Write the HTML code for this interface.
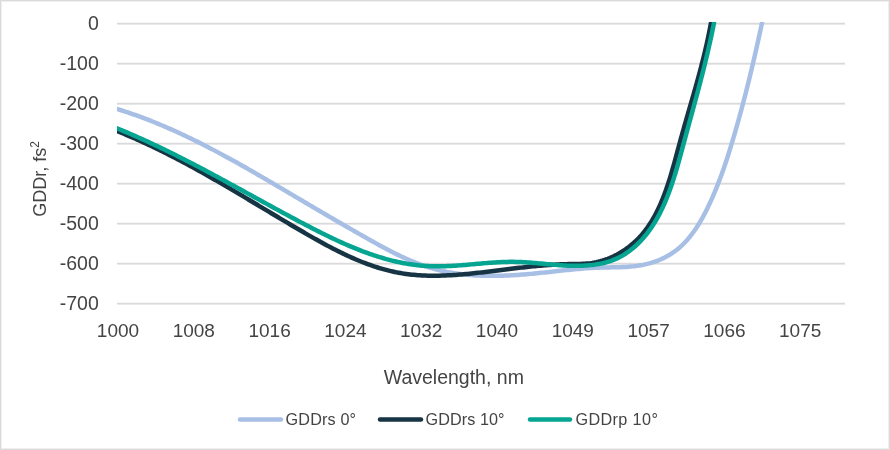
<!DOCTYPE html>
<html><head><meta charset="utf-8"><style>
html,body{margin:0;padding:0;background:#fff;}
svg{display:block;will-change:transform;}
text{font-family:"Liberation Sans", sans-serif;fill:#444444;}
</style></head><body>
<svg width="890" height="450" viewBox="0 0 890 450">
<rect x="0" y="0" width="890" height="450" fill="#fff"/>
<rect x="1.5" y="1.5" width="887" height="447" fill="none" stroke="#efefef" stroke-width="1"/>
<rect x="0.5" y="0.5" width="889" height="449" fill="none" stroke="#dadada" stroke-width="1"/>
<rect x="117" y="22" width="728" height="1" fill="#f6f6f6"/><rect x="117" y="23" width="728" height="1" fill="#dadada"/><rect x="117" y="24" width="728" height="1" fill="#e8e8e8"/><rect x="117" y="62" width="728" height="1" fill="#f6f6f6"/><rect x="117" y="63" width="728" height="1" fill="#dadada"/><rect x="117" y="64" width="728" height="1" fill="#e8e8e8"/><rect x="117" y="102" width="728" height="1" fill="#f6f6f6"/><rect x="117" y="103" width="728" height="1" fill="#dadada"/><rect x="117" y="104" width="728" height="1" fill="#e8e8e8"/><rect x="117" y="142" width="728" height="1" fill="#f6f6f6"/><rect x="117" y="143" width="728" height="1" fill="#dadada"/><rect x="117" y="144" width="728" height="1" fill="#e8e8e8"/><rect x="117" y="182" width="728" height="1" fill="#f6f6f6"/><rect x="117" y="183" width="728" height="1" fill="#dadada"/><rect x="117" y="184" width="728" height="1" fill="#e8e8e8"/><rect x="117" y="222" width="728" height="1" fill="#f6f6f6"/><rect x="117" y="223" width="728" height="1" fill="#dadada"/><rect x="117" y="224" width="728" height="1" fill="#e8e8e8"/><rect x="117" y="262" width="728" height="1" fill="#f6f6f6"/><rect x="117" y="263" width="728" height="1" fill="#dadada"/><rect x="117" y="264" width="728" height="1" fill="#e8e8e8"/><rect x="117" y="302" width="728" height="1" fill="#f6f6f6"/><rect x="117" y="303" width="728" height="1" fill="#dadada"/><rect x="117" y="304" width="728" height="1" fill="#e8e8e8"/>
<g font-size="19"><text x="98.8" y="30.2" text-anchor="end" font-size="19.5">0</text><text x="98.8" y="70.2" text-anchor="end" font-size="19.5">-100</text><text x="98.8" y="110.2" text-anchor="end" font-size="19.5">-200</text><text x="98.8" y="150.2" text-anchor="end" font-size="19.5">-300</text><text x="98.8" y="190.2" text-anchor="end" font-size="19.5">-400</text><text x="98.8" y="230.2" text-anchor="end" font-size="19.5">-500</text><text x="98.8" y="270.2" text-anchor="end" font-size="19.5">-600</text><text x="98.8" y="310.2" text-anchor="end" font-size="19.5">-700</text><text x="118.0" y="337" text-anchor="middle">1000</text><text x="193.8" y="337" text-anchor="middle">1008</text><text x="269.6" y="337" text-anchor="middle">1016</text><text x="345.4" y="337" text-anchor="middle">1024</text><text x="421.2" y="337" text-anchor="middle">1032</text><text x="497.0" y="337" text-anchor="middle">1040</text><text x="572.8" y="337" text-anchor="middle">1049</text><text x="648.6" y="337" text-anchor="middle">1057</text><text x="724.4" y="337" text-anchor="middle">1066</text><text x="800.2" y="337" text-anchor="middle">1075</text></g>
<text x="453.8" y="383.8" text-anchor="middle" font-size="19.5">Wavelength, nm</text>
<text transform="translate(46,179) rotate(-90)" text-anchor="middle" font-size="18">GDDr, fs<tspan font-size="12" dy="-7">2</tspan></text>
<svg x="117" y="22.5" width="728" height="290" viewBox="117 22.5 728 290" overflow="hidden">
<path d="M116.98 108.97 L119.02 109.60 L121.05 110.23 L123.08 110.88 L125.10 111.54 L127.13 112.21 L129.14 112.89 L131.16 113.58 L133.17 114.27 L135.17 114.98 L137.17 115.69 L139.17 116.42 L141.17 117.15 L143.16 117.90 L145.15 118.65 L147.13 119.41 L149.11 120.18 L151.09 120.96 L153.07 121.74 L155.04 122.54 L157.01 123.34 L158.97 124.15 L160.93 124.97 L162.89 125.80 L164.85 126.63 L166.80 127.47 L168.75 128.32 L170.69 129.18 L172.64 130.04 L174.58 130.91 L176.51 131.79 L178.45 132.67 L180.38 133.56 L182.31 134.46 L184.23 135.37 L186.15 136.28 L188.08 137.19 L189.99 138.12 L191.91 139.04 L193.82 139.98 L195.73 140.92 L197.64 141.87 L199.54 142.82 L201.44 143.78 L203.34 144.74 L205.24 145.71 L207.14 146.68 L209.03 147.66 L210.92 148.64 L212.81 149.63 L214.69 150.62 L216.58 151.62 L218.46 152.62 L220.34 153.62 L222.22 154.63 L224.09 155.65 L225.97 156.66 L227.84 157.68 L229.71 158.71 L231.57 159.74 L233.44 160.77 L235.30 161.81 L237.17 162.84 L239.03 163.89 L240.89 164.93 L242.74 165.98 L244.60 167.03 L246.45 168.08 L248.31 169.14 L250.16 170.19 L252.01 171.25 L253.85 172.31 L255.70 173.38 L257.54 174.45 L259.39 175.51 L261.23 176.58 L263.07 177.65 L264.91 178.73 L266.75 179.80 L268.59 180.88 L270.42 181.95 L272.26 183.03 L274.09 184.11 L275.93 185.19 L277.76 186.26 L279.59 187.34 L281.42 188.42 L283.25 189.51 L285.08 190.59 L286.90 191.67 L288.73 192.75 L290.56 193.83 L292.38 194.91 L294.21 195.99 L296.03 197.07 L297.85 198.15 L299.68 199.22 L301.50 200.30 L303.32 201.38 L305.14 202.45 L306.96 203.53 L308.78 204.60 L310.60 205.67 L312.43 206.74 L314.25 207.82 L316.07 208.89 L317.89 209.96 L319.71 211.02 L321.53 212.09 L323.36 213.16 L325.18 214.23 L327.01 215.29 L328.83 216.36 L330.66 217.42 L332.49 218.49 L334.32 219.55 L336.15 220.62 L337.98 221.68 L339.81 222.74 L341.65 223.80 L343.49 224.87 L345.33 225.93 L347.17 226.99 L349.01 228.05 L350.85 229.11 L352.70 230.17 L354.55 231.23 L356.40 232.29 L358.26 233.35 L360.12 234.41 L361.98 235.47 L363.84 236.52 L365.71 237.58 L367.57 238.64 L369.45 239.70 L371.32 240.75 L373.20 241.81 L375.08 242.86 L376.97 243.90 L378.86 244.94 L380.75 245.98 L382.65 247.00 L384.55 248.02 L386.45 249.04 L388.36 250.04 L390.28 251.03 L392.19 252.01 L394.12 252.99 L396.04 253.94 L397.97 254.89 L399.91 255.82 L401.85 256.74 L403.79 257.64 L405.74 258.53 L407.70 259.40 L409.66 260.25 L411.62 261.08 L413.60 261.89 L415.57 262.68 L417.55 263.46 L419.54 264.21 L421.53 264.93 L423.53 265.64 L425.54 266.32 L427.55 266.97 L429.56 267.60 L431.59 268.21 L433.62 268.78 L435.65 269.33 L437.69 269.86 L439.74 270.36 L441.79 270.83 L443.84 271.28 L445.91 271.71 L447.97 272.11 L450.04 272.49 L452.12 272.84 L454.20 273.18 L456.28 273.49 L458.37 273.78 L460.46 274.05 L462.56 274.30 L464.66 274.53 L466.76 274.74 L468.87 274.93 L470.98 275.10 L473.09 275.25 L475.20 275.38 L477.32 275.50 L479.44 275.60 L481.56 275.68 L483.68 275.74 L485.80 275.79 L487.93 275.83 L490.06 275.85 L492.19 275.85 L494.32 275.84 L496.45 275.82 L498.58 275.78 L500.71 275.73 L502.84 275.66 L504.98 275.59 L507.11 275.50 L509.24 275.40 L511.37 275.29 L513.50 275.17 L515.63 275.04 L517.76 274.90 L519.89 274.75 L522.02 274.59 L524.15 274.43 L526.27 274.25 L528.40 274.07 L530.52 273.88 L532.64 273.68 L534.75 273.48 L536.87 273.27 L538.98 273.06 L541.09 272.84 L543.20 272.62 L545.31 272.39 L547.42 272.17 L549.52 271.94 L551.62 271.70 L553.73 271.47 L555.83 271.24 L557.93 271.01 L560.04 270.78 L562.14 270.55 L564.25 270.33 L566.35 270.11 L568.46 269.89 L570.57 269.68 L572.67 269.47 L574.79 269.27 L576.90 269.08 L579.01 268.89 L581.13 268.71 L583.25 268.54 L585.38 268.38 L587.50 268.23 L589.63 268.09 L591.77 267.97 L593.90 267.85 L596.05 267.75 L598.19 267.66 L600.34 267.58 L602.50 267.52 L604.66 267.47 L606.82 267.43 L608.98 267.39 L611.15 267.36 L613.31 267.32 L615.48 267.28 L617.64 267.23 L619.80 267.16 L621.96 267.09 L624.11 266.99 L626.25 266.88 L628.39 266.74 L630.53 266.58 L632.65 266.38 L634.77 266.15 L636.87 265.89 L638.97 265.58 L641.05 265.23 L643.12 264.84 L645.17 264.40 L647.21 263.92 L649.24 263.39 L651.25 262.81 L653.23 262.19 L655.20 261.52 L657.15 260.81 L659.08 260.04 L660.98 259.23 L662.86 258.38 L664.71 257.47 L666.54 256.51 L668.33 255.51 L670.10 254.46 L671.84 253.35 L673.55 252.20 L675.23 251.00 L676.87 249.75 L678.48 248.44 L680.06 247.09 L681.60 245.69 L683.10 244.25 L684.58 242.76 L686.02 241.22 L687.43 239.65 L688.81 238.04 L690.16 236.39 L691.48 234.71 L692.77 232.99 L694.04 231.25 L695.28 229.47 L696.49 227.67 L697.67 225.84 L698.83 223.99 L699.97 222.11 L701.08 220.22 L702.16 218.30 L703.23 216.37 L704.27 214.43 L705.30 212.47 L706.30 210.51 L707.28 208.53 L708.24 206.54 L709.18 204.56 L710.11 202.56 L711.02 200.57 L711.91 198.58 L712.79 196.58 L713.65 194.59 L714.49 192.60 L715.32 190.61 L716.14 188.62 L716.94 186.63 L717.73 184.64 L718.51 182.65 L719.27 180.66 L720.02 178.67 L720.76 176.68 L721.49 174.69 L722.21 172.69 L722.92 170.70 L723.62 168.71 L724.31 166.71 L724.99 164.72 L725.66 162.72 L726.32 160.72 L726.98 158.72 L727.62 156.72 L728.27 154.72 L728.90 152.71 L729.53 150.70 L730.16 148.69 L730.77 146.68 L731.39 144.67 L732.00 142.65 L732.61 140.63 L733.21 138.60 L733.81 136.58 L734.41 134.55 L735.00 132.52 L735.59 130.49 L736.17 128.45 L736.75 126.41 L737.33 124.37 L737.91 122.33 L738.48 120.28 L739.04 118.24 L739.61 116.19 L740.17 114.14 L740.73 112.08 L741.28 110.03 L741.83 107.97 L742.38 105.92 L742.93 103.86 L743.47 101.80 L744.01 99.73 L744.54 97.67 L745.08 95.60 L745.60 93.54 L746.13 91.47 L746.65 89.40 L747.17 87.33 L747.69 85.26 L748.21 83.19 L748.72 81.12 L749.23 79.04 L749.73 76.97 L750.24 74.89 L750.74 72.82 L751.23 70.74 L751.73 68.67 L752.22 66.59 L752.71 64.51 L753.20 62.43 L753.68 60.36 L754.16 58.28 L754.64 56.20 L755.12 54.12 L755.59 52.04 L756.06 49.97 L756.53 47.89 L757.00 45.81 L757.47 43.74 L757.93 41.66 L758.39 39.58 L758.85 37.51 L759.30 35.43 L759.75 33.36 L760.20 31.28 L760.65 29.21 L761.10 27.14 L761.54 25.07 L761.99 23.00" fill="none" stroke="#a8bfe5" stroke-width="4.5" stroke-linecap="round" stroke-linejoin="round"/>
<path d="M116.83 130.96 L118.71 131.72 L120.59 132.48 L122.46 133.25 L124.33 134.03 L126.20 134.81 L128.06 135.60 L129.91 136.39 L131.76 137.19 L133.61 138.00 L135.45 138.81 L137.28 139.62 L139.12 140.44 L140.94 141.27 L142.77 142.10 L144.59 142.93 L146.40 143.77 L148.21 144.62 L150.02 145.47 L151.82 146.32 L153.62 147.18 L155.42 148.05 L157.21 148.92 L159.00 149.79 L160.78 150.67 L162.56 151.55 L164.34 152.43 L166.11 153.32 L167.88 154.22 L169.65 155.12 L171.42 156.02 L173.18 156.93 L174.94 157.84 L176.69 158.75 L178.44 159.67 L180.20 160.59 L181.94 161.51 L183.69 162.44 L185.43 163.37 L187.17 164.31 L188.91 165.25 L190.64 166.19 L192.38 167.14 L194.11 168.09 L195.83 169.04 L197.56 169.99 L199.29 170.95 L201.01 171.91 L202.73 172.87 L204.45 173.84 L206.17 174.81 L207.88 175.78 L209.60 176.75 L211.31 177.73 L213.02 178.71 L214.73 179.69 L216.44 180.67 L218.15 181.66 L219.85 182.65 L221.56 183.64 L223.27 184.63 L224.97 185.62 L226.67 186.62 L228.37 187.62 L230.08 188.62 L231.78 189.62 L233.48 190.62 L235.18 191.62 L236.88 192.63 L238.58 193.64 L240.28 194.65 L241.98 195.66 L243.67 196.67 L245.37 197.68 L247.07 198.69 L248.77 199.71 L250.47 200.72 L252.17 201.74 L253.87 202.76 L255.57 203.77 L257.27 204.79 L258.97 205.81 L260.68 206.83 L262.38 207.85 L264.08 208.87 L265.79 209.89 L267.49 210.92 L269.20 211.94 L270.91 212.96 L272.61 213.98 L274.32 215.00 L276.04 216.02 L277.75 217.05 L279.46 218.07 L281.18 219.09 L282.89 220.11 L284.61 221.13 L286.33 222.15 L288.06 223.17 L289.78 224.19 L291.51 225.21 L293.23 226.23 L294.96 227.25 L296.70 228.26 L298.43 229.28 L300.17 230.29 L301.91 231.31 L303.65 232.32 L305.39 233.33 L307.14 234.34 L308.89 235.35 L310.64 236.35 L312.39 237.35 L314.15 238.34 L315.91 239.33 L317.67 240.32 L319.44 241.30 L321.20 242.27 L322.97 243.24 L324.75 244.21 L326.52 245.16 L328.30 246.11 L330.09 247.05 L331.87 247.99 L333.66 248.91 L335.45 249.83 L337.25 250.73 L339.04 251.63 L340.85 252.52 L342.65 253.39 L344.46 254.26 L346.27 255.11 L348.08 255.95 L349.90 256.78 L351.72 257.60 L353.55 258.40 L355.38 259.20 L357.21 259.97 L359.04 260.74 L360.88 261.48 L362.72 262.22 L364.57 262.93 L366.42 263.64 L368.28 264.32 L370.13 264.99 L372.00 265.64 L373.86 266.27 L375.73 266.89 L377.61 267.49 L379.48 268.07 L381.37 268.62 L383.25 269.16 L385.14 269.68 L387.04 270.18 L388.94 270.66 L390.84 271.12 L392.75 271.55 L394.66 271.97 L396.57 272.36 L398.49 272.73 L400.42 273.07 L402.35 273.39 L404.28 273.69 L406.22 273.96 L408.16 274.22 L410.11 274.45 L412.06 274.66 L414.01 274.85 L415.97 275.02 L417.93 275.17 L419.89 275.30 L421.86 275.41 L423.83 275.50 L425.80 275.58 L427.77 275.63 L429.75 275.67 L431.73 275.70 L433.71 275.71 L435.70 275.70 L437.68 275.68 L439.67 275.64 L441.66 275.59 L443.65 275.53 L445.64 275.45 L447.64 275.36 L449.63 275.26 L451.63 275.15 L453.62 275.03 L455.62 274.89 L457.62 274.75 L459.62 274.59 L461.61 274.43 L463.61 274.26 L465.61 274.08 L467.61 273.89 L469.61 273.70 L471.60 273.49 L473.60 273.29 L475.60 273.07 L477.59 272.85 L479.58 272.63 L481.58 272.40 L483.57 272.17 L485.56 271.93 L487.55 271.69 L489.53 271.45 L491.52 271.21 L493.50 270.97 L495.48 270.72 L497.46 270.48 L499.44 270.23 L501.41 269.98 L503.38 269.74 L505.35 269.50 L507.31 269.25 L509.28 269.01 L511.24 268.78 L513.20 268.54 L515.16 268.31 L517.12 268.08 L519.08 267.85 L521.04 267.63 L522.99 267.41 L524.95 267.19 L526.91 266.98 L528.86 266.77 L530.82 266.57 L532.78 266.38 L534.74 266.19 L536.69 266.00 L538.65 265.83 L540.62 265.66 L542.58 265.49 L544.54 265.33 L546.51 265.18 L548.48 265.04 L550.45 264.91 L552.42 264.78 L554.40 264.67 L556.38 264.56 L558.36 264.46 L560.35 264.37 L562.34 264.29 L564.33 264.23 L566.33 264.17 L568.33 264.12 L570.34 264.08 L572.35 264.06 L574.36 264.03 L576.37 264.01 L578.39 263.97 L580.40 263.92 L582.41 263.85 L584.42 263.74 L586.42 263.60 L588.41 263.42 L590.40 263.19 L592.38 262.90 L594.34 262.56 L596.30 262.17 L598.24 261.73 L600.17 261.24 L602.08 260.70 L603.98 260.10 L605.86 259.47 L607.73 258.78 L609.57 258.05 L611.40 257.27 L613.21 256.46 L615.00 255.59 L616.76 254.69 L618.50 253.75 L620.22 252.76 L621.91 251.74 L623.58 250.68 L625.22 249.58 L626.83 248.45 L628.41 247.29 L629.96 246.08 L631.48 244.85 L632.97 243.59 L634.43 242.29 L635.85 240.97 L637.24 239.61 L638.60 238.23 L639.92 236.82 L641.21 235.38 L642.47 233.92 L643.70 232.43 L644.90 230.92 L646.07 229.38 L647.22 227.82 L648.33 226.23 L649.42 224.63 L650.48 223.00 L651.51 221.35 L652.52 219.68 L653.50 217.99 L654.46 216.28 L655.40 214.55 L656.31 212.80 L657.20 211.04 L658.07 209.26 L658.92 207.47 L659.75 205.66 L660.56 203.83 L661.35 201.99 L662.12 200.14 L662.88 198.28 L663.62 196.40 L664.34 194.51 L665.04 192.61 L665.74 190.70 L666.41 188.78 L667.08 186.86 L667.73 184.92 L668.37 182.98 L668.99 181.03 L669.61 179.07 L670.21 177.11 L670.81 175.14 L671.40 173.17 L671.97 171.20 L672.54 169.22 L673.11 167.24 L673.66 165.26 L674.22 163.28 L674.76 161.30 L675.30 159.31 L675.84 157.33 L676.38 155.35 L676.91 153.38 L677.44 151.40 L677.97 149.43 L678.50 147.46 L679.03 145.50 L679.56 143.55 L680.09 141.60 L680.62 139.65 L681.16 137.71 L681.69 135.78 L682.23 133.86 L682.77 131.94 L683.31 130.02 L683.85 128.11 L684.39 126.20 L684.93 124.30 L685.48 122.41 L686.02 120.51 L686.56 118.62 L687.11 116.74 L687.65 114.85 L688.19 112.97 L688.74 111.09 L689.28 109.22 L689.82 107.34 L690.36 105.47 L690.90 103.60 L691.44 101.73 L691.98 99.86 L692.52 97.99 L693.06 96.12 L693.59 94.26 L694.12 92.39 L694.65 90.52 L695.18 88.65 L695.71 86.78 L696.23 84.91 L696.76 83.04 L697.28 81.17 L697.79 79.29 L698.31 77.41 L698.82 75.53 L699.33 73.65 L699.83 71.76 L700.33 69.87 L700.83 67.98 L701.33 66.08 L701.82 64.18 L702.30 62.28 L702.79 60.37 L703.26 58.46 L703.74 56.54 L704.21 54.61 L704.67 52.68 L705.13 50.74 L705.59 48.80 L706.04 46.85 L706.48 44.90 L706.92 42.94 L707.36 40.97 L707.79 38.99 L708.21 37.00 L708.63 35.01 L709.04 33.01 L709.44 31.00 L709.84 28.98 L710.24 26.96 L710.62 24.92 L711.00 22.87" fill="none" stroke="#163443" stroke-width="4.5" stroke-linecap="round" stroke-linejoin="round"/>
<path d="M116.81 128.23 L118.69 129.00 L120.56 129.77 L122.43 130.55 L124.29 131.33 L126.15 132.12 L128.01 132.91 L129.86 133.71 L131.71 134.51 L133.56 135.32 L135.40 136.13 L137.23 136.94 L139.07 137.76 L140.90 138.58 L142.73 139.40 L144.55 140.23 L146.37 141.07 L148.19 141.90 L150.00 142.74 L151.81 143.59 L153.62 144.43 L155.42 145.28 L157.22 146.14 L159.02 147.00 L160.82 147.86 L162.61 148.72 L164.40 149.59 L166.19 150.46 L167.98 151.33 L169.76 152.21 L171.54 153.09 L173.32 153.97 L175.09 154.86 L176.87 155.75 L178.64 156.64 L180.41 157.53 L182.17 158.43 L183.94 159.32 L185.70 160.23 L187.46 161.13 L189.22 162.04 L190.98 162.94 L192.74 163.85 L194.49 164.77 L196.24 165.68 L197.99 166.60 L199.74 167.52 L201.49 168.44 L203.24 169.36 L204.99 170.29 L206.73 171.21 L208.48 172.14 L210.22 173.07 L211.96 174.01 L213.70 174.94 L215.44 175.87 L217.18 176.81 L218.92 177.75 L220.66 178.69 L222.39 179.63 L224.13 180.57 L225.87 181.51 L227.60 182.46 L229.34 183.40 L231.07 184.35 L232.81 185.30 L234.54 186.24 L236.28 187.19 L238.01 188.14 L239.75 189.09 L241.48 190.04 L243.22 191.00 L244.95 191.95 L246.69 192.90 L248.42 193.85 L250.16 194.81 L251.90 195.76 L253.63 196.72 L255.37 197.67 L257.11 198.63 L258.85 199.58 L260.59 200.53 L262.33 201.49 L264.07 202.44 L265.82 203.40 L267.56 204.35 L269.31 205.31 L271.05 206.26 L272.80 207.21 L274.55 208.17 L276.30 209.12 L278.05 210.07 L279.80 211.02 L281.56 211.97 L283.31 212.92 L285.07 213.87 L286.83 214.82 L288.59 215.77 L290.36 216.71 L292.12 217.66 L293.89 218.60 L295.66 219.55 L297.43 220.49 L299.21 221.43 L300.98 222.37 L302.76 223.31 L304.54 224.25 L306.32 225.18 L308.11 226.11 L309.90 227.04 L311.69 227.97 L313.48 228.89 L315.27 229.81 L317.07 230.72 L318.87 231.63 L320.67 232.54 L322.48 233.44 L324.28 234.33 L326.09 235.22 L327.90 236.10 L329.72 236.98 L331.53 237.85 L333.35 238.72 L335.18 239.57 L337.00 240.42 L338.83 241.26 L340.66 242.10 L342.49 242.92 L344.32 243.74 L346.16 244.54 L348.00 245.34 L349.84 246.13 L351.68 246.90 L353.53 247.67 L355.38 248.43 L357.23 249.17 L359.09 249.91 L360.95 250.63 L362.81 251.34 L364.67 252.04 L366.54 252.72 L368.41 253.39 L370.28 254.05 L372.15 254.70 L374.03 255.33 L375.91 255.95 L377.79 256.55 L379.68 257.14 L381.56 257.71 L383.46 258.27 L385.35 258.81 L387.25 259.34 L389.15 259.85 L391.05 260.34 L392.95 260.81 L394.86 261.27 L396.77 261.71 L398.69 262.14 L400.60 262.54 L402.52 262.93 L404.45 263.29 L406.37 263.64 L408.30 263.97 L410.23 264.28 L412.17 264.57 L414.10 264.83 L416.05 265.08 L417.99 265.31 L419.94 265.51 L421.89 265.69 L423.84 265.85 L425.80 265.99 L427.75 266.11 L429.72 266.20 L431.68 266.27 L433.65 266.32 L435.62 266.34 L437.60 266.35 L439.57 266.33 L441.55 266.30 L443.54 266.25 L445.52 266.19 L447.51 266.11 L449.50 266.02 L451.49 265.91 L453.48 265.79 L455.47 265.66 L457.47 265.53 L459.47 265.38 L461.47 265.22 L463.47 265.06 L465.47 264.89 L467.48 264.72 L469.48 264.54 L471.49 264.37 L473.50 264.19 L475.50 264.01 L477.51 263.83 L479.52 263.65 L481.53 263.47 L483.54 263.30 L485.55 263.13 L487.56 262.97 L489.58 262.82 L491.59 262.67 L493.60 262.53 L495.61 262.41 L497.62 262.29 L499.63 262.18 L501.64 262.09 L503.65 262.01 L505.66 261.95 L507.66 261.90 L509.67 261.87 L511.68 261.86 L513.68 261.87 L515.68 261.90 L517.68 261.95 L519.69 262.01 L521.69 262.10 L523.68 262.20 L525.68 262.32 L527.68 262.45 L529.67 262.59 L531.66 262.74 L533.66 262.90 L535.65 263.07 L537.64 263.25 L539.63 263.43 L541.61 263.61 L543.60 263.80 L545.59 263.98 L547.57 264.17 L549.56 264.35 L551.54 264.53 L553.52 264.71 L555.50 264.87 L557.48 265.03 L559.46 265.18 L561.44 265.32 L563.42 265.45 L565.39 265.56 L567.37 265.66 L569.34 265.74 L571.32 265.81 L573.29 265.85 L575.26 265.87 L577.24 265.87 L579.21 265.85 L581.18 265.80 L583.15 265.73 L585.12 265.62 L587.09 265.49 L589.05 265.33 L591.02 265.13 L592.99 264.90 L594.95 264.64 L596.91 264.33 L598.86 263.99 L600.80 263.61 L602.74 263.19 L604.66 262.72 L606.57 262.21 L608.46 261.66 L610.34 261.05 L612.20 260.40 L614.03 259.70 L615.85 258.94 L617.64 258.13 L619.41 257.26 L621.15 256.34 L622.87 255.36 L624.55 254.33 L626.21 253.25 L627.84 252.13 L629.44 250.96 L631.00 249.76 L632.54 248.52 L634.05 247.24 L635.52 245.94 L636.97 244.60 L638.38 243.25 L639.76 241.86 L641.11 240.45 L642.43 239.01 L643.72 237.55 L644.98 236.07 L646.21 234.56 L647.42 233.03 L648.60 231.48 L649.75 229.90 L650.88 228.31 L651.98 226.69 L653.05 225.06 L654.10 223.40 L655.13 221.73 L656.13 220.03 L657.12 218.32 L658.07 216.60 L659.01 214.85 L659.93 213.09 L660.82 211.32 L661.70 209.53 L662.56 207.73 L663.39 205.91 L664.21 204.08 L665.02 202.24 L665.80 200.38 L666.57 198.51 L667.32 196.64 L668.06 194.75 L668.78 192.85 L669.48 190.95 L670.18 189.03 L670.86 187.11 L671.52 185.18 L672.18 183.24 L672.82 181.30 L673.45 179.35 L674.07 177.40 L674.68 175.44 L675.29 173.47 L675.88 171.51 L676.46 169.54 L677.04 167.57 L677.61 165.60 L678.17 163.62 L678.73 161.65 L679.28 159.67 L679.83 157.70 L680.37 155.72 L680.90 153.75 L681.44 151.78 L681.97 149.82 L682.50 147.86 L683.03 145.90 L683.55 143.94 L684.08 141.99 L684.60 140.05 L685.13 138.11 L685.65 136.18 L686.18 134.25 L686.70 132.33 L687.23 130.41 L687.75 128.49 L688.27 126.58 L688.79 124.67 L689.31 122.77 L689.83 120.87 L690.35 118.97 L690.87 117.08 L691.39 115.18 L691.91 113.29 L692.42 111.40 L692.94 109.52 L693.45 107.63 L693.96 105.75 L694.47 103.87 L694.98 101.99 L695.49 100.11 L696.00 98.23 L696.50 96.35 L697.01 94.47 L697.51 92.59 L698.01 90.71 L698.51 88.83 L699.01 86.95 L699.50 85.07 L699.99 83.18 L700.49 81.30 L700.97 79.41 L701.46 77.52 L701.95 75.63 L702.43 73.74 L702.91 71.84 L703.39 69.94 L703.86 68.04 L704.34 66.13 L704.81 64.22 L705.27 62.31 L705.74 60.39 L706.20 58.47 L706.66 56.54 L707.12 54.61 L707.57 52.67 L708.03 50.73 L708.47 48.79 L708.92 46.83 L709.36 44.87 L709.80 42.91 L710.24 40.94 L710.67 38.96 L711.10 36.98 L711.52 34.99 L711.95 32.99 L712.37 30.98 L712.78 28.97 L713.19 26.94 L713.60 24.91 L714.00 22.88" fill="none" stroke="#05a592" stroke-width="4.5" stroke-linecap="round" stroke-linejoin="round"/>
</svg>
<g stroke-width="4.5" stroke-linecap="round">
<line x1="240" y1="419.5" x2="281" y2="419.5" stroke="#a8bfe5"/>
<line x1="380" y1="419.5" x2="421" y2="419.5" stroke="#163443"/>
<line x1="530" y1="419.5" x2="570" y2="419.5" stroke="#05a592"/>
</g>
<g font-size="16.2">
<text x="285.6" y="424.9" textLength="70.5" lengthAdjust="spacing">GDDrs 0°</text>
<text x="425.6" y="424.9" textLength="79" lengthAdjust="spacing">GDDrs 10°</text>
<text x="575.4" y="424.9" textLength="82.5" lengthAdjust="spacing">GDDrp 10°</text>
</g>
</svg>
</body></html>
